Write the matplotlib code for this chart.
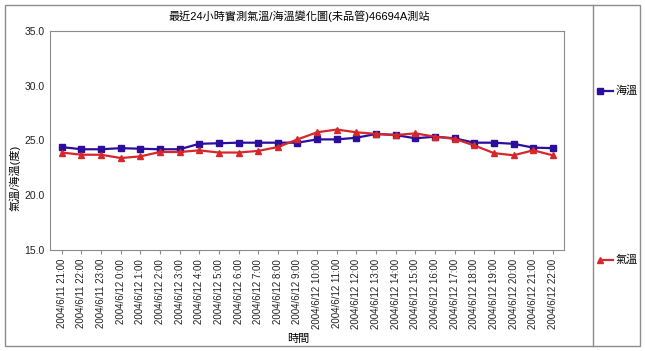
#coding:utf-8
import matplotlib
matplotlib.use("Agg")
import matplotlib.pyplot as plt
from matplotlib.lines import Line2D
from matplotlib.patches import Rectangle

plt.rcParams['font.family'] = ['Liberation Sans', 'Noto Sans CJK TC', 'DejaVu Sans']

# data
times = ["2004/6/11 21:00", "2004/6/11 22:00", "2004/6/11 23:00"] + \
        ["2004/6/12 %d:00" % h for h in range(0, 23)]
sea_temp = [24.4, 24.2, 24.2, 24.3, 24.25, 24.2, 24.2, 24.7, 24.75, 24.8, 24.8, 24.8, 24.8,
            25.1, 25.1, 25.25, 25.6, 25.5, 25.2, 25.35, 25.2, 24.8, 24.8, 24.7, 24.35, 24.3]
air_temp = [23.9, 23.7, 23.7, 23.4, 23.55, 23.95, 23.95, 24.1, 23.9, 23.9, 24.05, 24.4, 25.1,
            25.75, 26.0, 25.75, 25.6, 25.5, 25.65, 25.35, 25.15, 24.55, 23.85, 23.65, 24.1, 23.65]
y_ticks = [15.0, 20.0, 25.0, 30.0, 35.0]

SEA_COLOR = "#2b0e9c"
AIR_COLOR = "#d6282a"
GRAY = "#8c8c8c"

W, H = 645, 351
fig = plt.figure(figsize=(W / 100, H / 100), dpi=100)

# outer frame and legend divider
fig.add_artist(Rectangle((5 / W, 5 / H), 635 / W, 341 / H, transform=fig.transFigure,
                         fill=False, edgecolor=GRAY, linewidth=1))
fig.add_artist(Line2D([593 / W, 593 / W], [5 / H, 346 / H], transform=fig.transFigure,
                      color=GRAY, linewidth=1))

ax = fig.add_axes([50 / W, 1 - 250 / H, 514 / W, 219 / H])
x = list(range(len(times)))
ax.plot(x, sea_temp, color=SEA_COLOR, marker="s", markersize=4, linewidth=1.6)
ax.plot(x, air_temp, color=AIR_COLOR, marker="^", markersize=4.5, linewidth=1.6)

ax.set_xlim(-0.6, 25.57)
ax.set_ylim(15, 35)
ax.set_yticks(y_ticks)
ax.set_yticklabels(["%.1f" % v for v in y_ticks], fontsize=7.5)
ax.set_xticks(x)
ax.set_xticklabels(times, rotation=90, fontsize=7)
for s in ax.spines.values():
    s.set_color(GRAY)
ax.tick_params(axis="both", colors=GRAY, labelcolor="#222222", length=3, width=0.8)
ax.tick_params(axis="y", length=0, pad=4)

ax.set_title("最近24小時實測氣溫/海溫變化圖(未品管)46694A測站", fontsize=8, pad=8, x=0.485)
ax.set_ylabel("氣溫/海溫(度)", fontsize=8)
ax.yaxis.set_label_coords(-0.057, 0.33)
fig.text(298 / W, 1 - 339 / H, "時間", fontsize=8, ha="center", va="center")

# legend entries in the right panel
fig.add_artist(Line2D([600 / W, 613 / W], [1 - 91 / H] * 2, transform=fig.transFigure,
                      color=SEA_COLOR, marker="s", markersize=4, markevery=[0], linewidth=1.6))
fig.add_artist(Line2D([600 / W, 613 / W], [1 - 260 / H] * 2, transform=fig.transFigure,
                      color=AIR_COLOR, marker="^", markersize=5, markevery=[0], linewidth=1.6))
fig.text(616 / W, 1 - 91 / H, "海溫", fontsize=8, va="center")
fig.text(616 / W, 1 - 260 / H, "氣溫", fontsize=8, va="center")

fig.savefig("out.png", dpi=100)
